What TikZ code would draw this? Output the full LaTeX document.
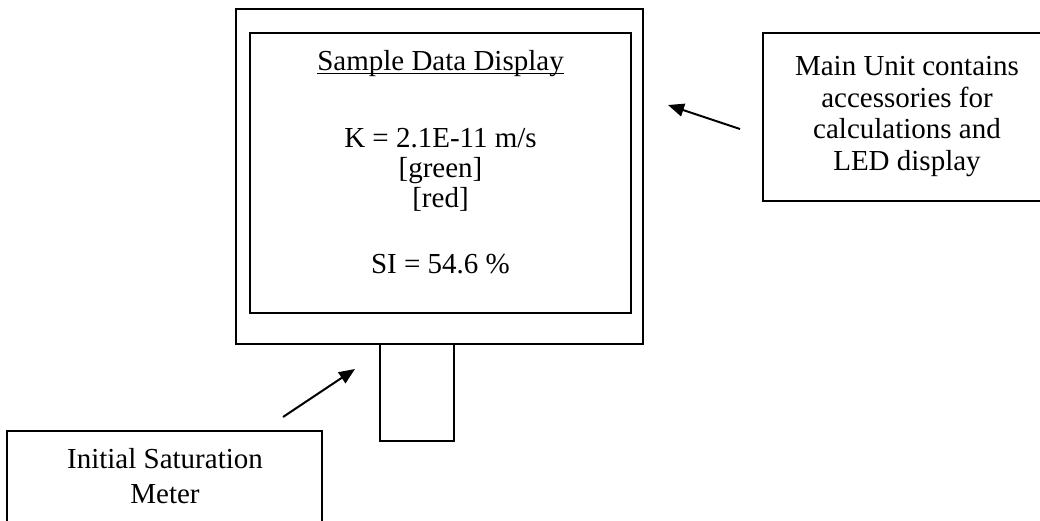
\documentclass[tikz,border=0pt]{standalone}
\usepackage{fontspec}
\setmainfont{Liberation Serif}
\usetikzlibrary{arrows.meta}
\tikzset{
  box/.style={draw=black, line width=1.5pt, fill=none, inner sep=0pt},
  txt/.style={anchor=base, inner sep=0pt, font=\fontsize{21.75}{24}\selectfont},
  pointer/.style={line width=1.5pt, -{Triangle[length=12pt, width=9.75pt]}},
  uline/.style={line width=1.1pt},
}
\begin{document}
\begin{tikzpicture}[x=0.75pt, y=-0.75pt]
\clip (0,0) rectangle (1040,521);
\fill[white] (0,0) rectangle (1040,521);
% boxes
\node[box, minimum width=305.25pt, minimum height=251.25pt] (outer) at (439.5,176.5) {};
\node[box, minimum width=285.75pt, minimum height=210pt] (inner) at (440.5,173) {};
\node[box, minimum width=55.5pt, minimum height=72.75pt] (meter) at (417,392.5) {};
\node[box, minimum width=222.75pt, minimum height=126pt] (mainbox) at (911.5,117) {};
\node[box, minimum width=236.25pt, minimum height=96.75pt] (satbox) at (164.5,495.5) {};
% display text
\node[txt] (title) at (440.5,70) {Sample Data Display};
\draw[uline] ([yshift=-2.7pt]title.base west) -- ([yshift=-2.7pt]title.base east);
\node[txt] (kline) at (440.5,147) {K = 2.1E-11 m/s};
\node[txt] (green) at (440.5,177) {[green]};
\node[txt] (red) at (440.5,207) {[red]};
\node[txt] (si) at (440.5,273) {SI = 54.6 \%};
% main unit text
\node[txt] (m1) at (907,75) {Main Unit contains};
\node[txt] (m2) at (907,107) {accessories for};
\node[txt] (m3) at (907,138) {calculations and};
\node[txt] (m4) at (907,170) {LED display};
% saturation text
\node[txt] (s1) at (165,468) {Initial Saturation};
\node[txt] (s2) at (165,503) {Meter};
% arrows
\coordinate (a1tail) at (740,129);
\coordinate (a1tip) at (668,105);
\coordinate (a2tail) at (283,417);
\coordinate (a2tip) at (355,369);
\draw[pointer] (a1tail) -- (a1tip);
\draw[pointer] (a2tail) -- (a2tip);
\end{tikzpicture}
\end{document}
